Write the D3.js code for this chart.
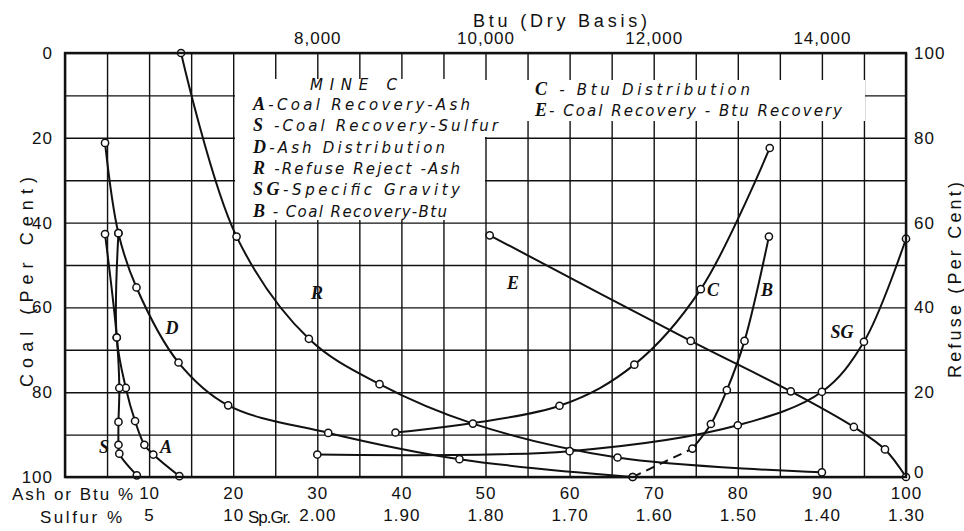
<!DOCTYPE html>
<html>
<head>
<meta charset="utf-8">
<script src="https://cdn.jsdelivr.net/npm/d3@7"></script>
<style>
  body { margin: 0; background: #fff; }
  svg { display: block; }
  text { fill: #111; }
  .num { font-family: "Liberation Sans", Arial, sans-serif; font-size: 17px; letter-spacing: 1px; }
  .ttl { font-family: "Liberation Sans", Arial, sans-serif; font-size: 18px; }
  .key { font-family: "Liberation Serif", serif; font-weight: bold; font-style: italic; font-size: 18px; }
  .desc { font-family: "DejaVu Sans", sans-serif; font-style: italic; font-size: 15px; }
  .lbl { font-family: "Liberation Serif", serif; font-weight: bold; font-style: italic; font-size: 18px; }
</style>
</head>
<body>
<svg id="chart" width="964" height="531"></svg>
<script>
// tick values
const coalTicks = [0, 20, 40, 60, 80, 100]
const refuseTicks = [0, 20, 40, 60, 80, 100]
const ashTicks = [10, 20, 30, 40, 50, 60, 70, 80, 90, 100]
const sulfurTicks = [5, 10]
const sgTicks = [2.0, 1.9, 1.8, 1.7, 1.6, 1.5, 1.4, 1.3]
const btuTicks = [8000, 10000, 12000, 14000]

// curves: [value on own x scale, coal per cent]
const curveA = [[6.35, 42.5], [6.15, 67.1], [7.23, 79.0], [8.33, 86.8], [9.44, 92.4], [10.5, 94.7], [13.6, 99.8]] // ash %
const curveS = [[2.38, 42.7], [3.08, 67.1], [3.23, 79.0], [3.18, 87.0], [3.18, 92.4], [3.23, 94.5], [4.27, 99.6]] // sulfur %
const curveD = [[4.76, 21.2], [6.35, 42.5], [8.5, 55.3], [13.5, 73.0], [19.4, 83.1], [31.3, 89.6], [46.9, 95.8], [67.5, 100]] // ash %
const curveR = [[13.8, 0], [20.4, 43.3], [29.0, 67.4], [37.4, 78.1], [48.5, 87.4], [65.7, 95.4], [90.0, 98.9]] // ash %
const curveSG = [[2.0, 94.7], [1.7, 93.9], [1.5, 87.8], [1.4, 79.9], [1.35, 68.1], [1.3, 43.8]] // sp. gr.
const curveB = [[11750, 100], [12460, 93.3], [12680, 87.5], [12870, 79.5], [13080, 67.9], [13370, 43.3]] // btu
const curveC = [[39.3, 89.5], [58.8, 83.2], [67.7, 73.5], [75.6, 55.7], [83.8, 22.4]] // btu %
const curveE = [[50.5, 43.0], [74.4, 67.9], [86.3, 79.8], [93.8, 88.2], [97.5, 93.5], [100, 100]] // btu %

const legendKeys = ['A', 'S', 'D', 'R', 'SG', 'B']
const legendDescs = ['-Coal Recovery-Ash', ' -Coal Recovery-Sulfur', '-Ash Distribution', ' -Refuse Reject -Ash', '-Specific Gravity', ' - Coal Recovery-Btu']
const legendKeys2 = ['C', 'E']
const legendDescs2 = [' - Btu Distribution', '- Coal Recovery - Btu Recovery']

const plotLeft = 65, plotRight = 906, plotTop = 53, plotBottom = 477

const xAsh = d3.scaleLinear().domain([0, 100]).range([plotLeft, plotRight])
const xSulfur = d3.scaleLinear().domain([0, 50]).range([plotLeft, plotRight])
const xSG = d3.scaleLinear().domain([2.3, 1.3]).range([plotLeft, plotRight])
const xBtu = d3.scaleLinear().domain([5000, 15000]).range([plotLeft, plotRight])
const yCoal = d3.scaleLinear().domain([0, 100]).range([plotTop, plotBottom])
const yRefuse = d3.scaleLinear().domain([100, 0]).range([plotTop, plotBottom])

const svg = d3.select('#chart')

// grid
svg.append('g')
  .attr('transform', `translate(0,${plotBottom})`)
  .call(d3.axisBottom(xAsh).tickValues(d3.range(0, 101, 5)).tickSize(-(plotBottom - plotTop)).tickFormat(''))
  .call(g => g.select('.domain').remove())
  .selectAll('line').attr('stroke', '#111').attr('stroke-width', 1.4)
svg.append('g')
  .attr('transform', `translate(${plotLeft},0)`)
  .call(d3.axisLeft(yCoal).tickValues(d3.range(0, 101, 10)).tickSize(-(plotRight - plotLeft)).tickFormat(''))
  .call(g => g.select('.domain').remove())
  .selectAll('line').attr('stroke', '#111').attr('stroke-width', 1.4)

// white areas behind legend text
const masks = [[235, 79, 250, 141], [485, 80, 380, 41], [485, 80, 5, 57]]
svg.selectAll('rect.mask').data(masks).enter().append('rect')
  .attr('class', 'mask')
  .attr('x', d => d[0]).attr('y', d => d[1]).attr('width', d => d[2]).attr('height', d => d[3])
  .attr('fill', '#fff')

// curves
const plot = svg.append('g').attr('fill', 'none').attr('stroke', '#111').attr('stroke-width', 2)
const smooth = d3.curveCatmullRom.alpha(0.5)

const series = [
  { pts: curveA, x: xAsh },
  { pts: curveS, x: xSulfur },
  { pts: curveD, x: xAsh },
  { pts: curveR, x: xAsh },
  { pts: curveSG, x: xSG },
  { pts: curveB.slice(1), x: xBtu },
  { pts: curveC, x: xAsh },
  { pts: curveE, x: xAsh }
]

series.forEach(s => {
  const line = d3.line().x(d => s.x(d[0])).y(d => yCoal(d[1])).curve(smooth)
  plot.append('path').attr('d', line(s.pts))
})

// dashed start of B
plot.append('path')
  .attr('d', d3.line().x(d => xBtu(d[0])).y(d => yCoal(d[1]))(curveB.slice(0, 2)))
  .attr('stroke-dasharray', '9,6')

// points
const dots = svg.append('g')
series.concat([{ pts: curveB.slice(0, 1), x: xBtu }]).forEach(s => {
  dots.selectAll(null).data(s.pts).enter().append('circle')
    .attr('cx', d => s.x(d[0])).attr('cy', d => yCoal(d[1]))
    .attr('r', 3.6)
    .attr('fill', '#fff').attr('stroke', '#111').attr('stroke-width', 1.5)
})

// frame
svg.append('rect')
  .attr('x', plotLeft).attr('y', plotTop).attr('width', plotRight - plotLeft).attr('height', plotBottom - plotTop)
  .attr('fill', 'none').attr('stroke', '#111').attr('stroke-width', 2.4)

// left axis labels
svg.append('g')
  .attr('transform', `translate(${plotLeft},0)`)
  .call(d3.axisLeft(yCoal).tickValues(coalTicks).tickSize(0).tickPadding(12))
  .call(g => g.select('.domain').remove())
  .selectAll('text').attr('class', 'num').attr('fill', '#111')

// right axis labels
svg.append('g')
  .attr('transform', `translate(${plotRight},0)`)
  .call(d3.axisRight(yRefuse).tickValues(refuseTicks).tickSize(0).tickPadding(8))
  .call(g => g.select('.domain').remove())
  .selectAll('text').attr('class', 'num').attr('fill', '#111')
  .attr('y', d => d === 0 ? -5 : 0)

// top axis labels
svg.append('g')
  .attr('transform', `translate(0,${plotTop})`)
  .call(d3.axisTop(xBtu).tickValues(btuTicks).tickSize(0).tickPadding(9).tickFormat(d3.format(',')))
  .call(g => g.select('.domain').remove())
  .selectAll('text').attr('class', 'num').attr('fill', '#111')

// bottom rows
svg.append('g')
  .attr('transform', `translate(0,${plotBottom})`)
  .call(d3.axisBottom(xAsh).tickValues(ashTicks).tickSize(0).tickPadding(10))
  .call(g => g.select('.domain').remove())
  .selectAll('text').attr('class', 'num').attr('fill', '#111')
svg.append('g')
  .attr('transform', `translate(0,${plotBottom + 22})`)
  .call(d3.axisBottom(xSulfur).tickValues(sulfurTicks).tickSize(0).tickPadding(10))
  .call(g => g.select('.domain').remove())
  .selectAll('text').attr('class', 'num').attr('fill', '#111')
svg.append('g')
  .attr('transform', `translate(0,${plotBottom + 22})`)
  .call(d3.axisBottom(xSG).tickValues(sgTicks).tickSize(0).tickPadding(10).tickFormat(d3.format('.2f')))
  .call(g => g.select('.domain').remove())
  .selectAll('text').attr('class', 'num').attr('fill', '#111')

svg.append('text').attr('class', 'num').attr('x', 134).attr('y', 500).attr('text-anchor', 'end')
  .attr('textLength', 122).text('Ash or Btu %')
svg.append('text').attr('class', 'num').attr('x', 123).attr('y', 523).attr('text-anchor', 'end')
  .attr('textLength', 83).text('Sulfur %')
svg.append('text').attr('class', 'num').attr('x', 248).attr('y', 523)
  .attr('textLength', 44).text('Sp.Gr.')

// titles
svg.append('text').attr('class', 'ttl').attr('x', 473).attr('y', 27)
  .attr('textLength', 174).attr('lengthAdjust', 'spacing').text('Btu (Dry Basis)')
svg.append('text').attr('class', 'ttl')
  .attr('transform', 'translate(33,282) rotate(-90)').attr('text-anchor', 'middle')
  .attr('textLength', 210).attr('lengthAdjust', 'spacing').text('Coal (Per Cent)')
svg.append('text').attr('class', 'ttl')
  .attr('transform', 'translate(961,280) rotate(-90)').attr('text-anchor', 'middle')
  .attr('textLength', 196).attr('lengthAdjust', 'spacing').text('Refuse (Per Cent)')

// legend
const legendWidths = [217, 245, 192, 207, 207, 194]
svg.append('text').attr('class', 'desc').attr('x', 310).attr('y', 90)
  .attr('textLength', 87).attr('lengthAdjust', 'spacing').text('MINE C')
legendKeys.forEach((k, i) => {
  const t = svg.append('text').attr('x', 253).attr('y', 110 + i * 21.3)
    .attr('textLength', legendWidths[i]).attr('lengthAdjust', 'spacing')
  t.append('tspan').attr('class', 'key').text(k)
  t.append('tspan').attr('class', 'desc').text(legendDescs[i])
})
const legendWidths2 = [215, 307]
legendKeys2.forEach((k, i) => {
  const t = svg.append('text').attr('x', 535).attr('y', 95 + i * 21)
    .attr('textLength', legendWidths2[i]).attr('lengthAdjust', 'spacing')
  t.append('tspan').attr('class', 'key').text(k)
  t.append('tspan').attr('class', 'desc').text(legendDescs2[i])
})

// curve labels
const curveLabels = [['A', 166, 447], ['S', 104, 447], ['D', 172, 328], ['R', 317, 293], ['E', 513, 283],
  ['C', 713, 290], ['B', 767, 290], ['SG', 842, 332]]
svg.selectAll('text.lbl').data(curveLabels).enter().append('text')
  .attr('class', 'lbl')
  .attr('x', d => d[1]).attr('y', d => d[2] + 6)
  .attr('text-anchor', 'middle')
  .text(d => d[0])
</script>
</body>
</html>
